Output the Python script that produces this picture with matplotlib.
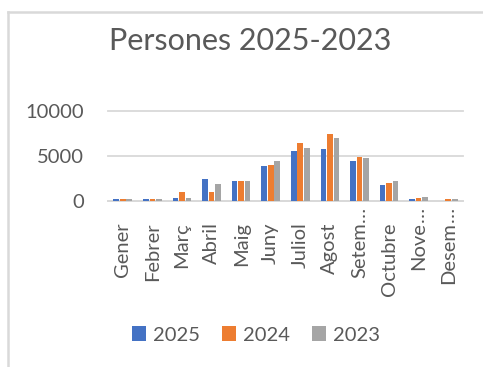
#!/usr/bin/env python3
"""
Persones per mes: comparativa 2025 / 2024 / 2023.
"""

import matplotlib.pyplot as plt
from matplotlib.lines import Line2D
from matplotlib.transforms import offset_copy
import numpy as np

plt.rcParams.update({
    'font.family': ['Lato', 'DejaVu Sans'],
    'font.size': 14,
    'text.color': '#595959',
    'xtick.color': '#595959',
    'ytick.color': '#595959',
})

# Data
mesos = ['Gener', 'Febrer', 'Març', 'Abril', 'Maig', 'Juny', 'Juliol',
         'Agost', 'Setem…', 'Octubre', 'Nove…', 'Desem…']
anys = ['2025', '2024', '2023']
p2025 = [250, 250, 400, 2480, 2230, 3900, 5580, 5730, 4490, 1820, 290, 0]
p2024 = [250, 250, 1100, 1100, 2230, 4050, 6460, 7450, 4930, 2080, 400, 290]
p2023 = [250, 250, 400, 1930, 2230, 4490, 5880, 7010, 4780, 2260, 550, 290]
yticks = [0, 5000, 10000]

colors = ['#4472C4', '#ED7D31', '#A5A5A5']
grid_color = '#d9d9d9'

W, H = 483, 367
fig = plt.figure(figsize=(W / 100, H / 100), dpi=100)
ax = fig.add_axes([108 / W, 1 - 201.5 / H, 355 / W, 90.8 / H])

x = np.arange(len(mesos))
width = 0.19
step = 0.22
for i, (vals, c, lab) in enumerate(zip([p2025, p2024, p2023], colors, anys)):
    ax.bar(x + (i - 1) * step, vals, width, color=c, label=lab, zorder=3)

ax.set_xlim(-0.5, len(mesos) - 0.5)
ax.set_ylim(0, 10000)
ax.set_yticks(yticks)
ax.set_yticklabels([str(v) for v in yticks])
ax.tick_params(axis='y', length=0, pad=17, labelsize=14.5)
ax.tick_params(axis='x', length=0)
ax.set_xticks(x)
ax.set_xticklabels([])
ax.grid(axis='y', color=grid_color, linewidth=1.3, zorder=0)
ax.grid(axis='x', visible=False)
for s in ['top', 'right', 'left']:
    ax.spines[s].set_visible(False)
ax.spines['bottom'].set_color(grid_color)
ax.spines['bottom'].set_linewidth(1.3)
for line in ax.get_ygridlines():
    line.set_clip_on(False)

# Month labels, rotated; truncated names keep the word aligned with the rest
base = ax.get_xaxis_transform()
for xi, name in zip(x, mesos):
    if name.endswith('…'):
        word = name[:-1]
        tr = offset_copy(base, fig=fig, x=0, y=-15, units='points')
        ax.text(xi, 0, word, rotation=90, ha='center', va='top',
                transform=tr, fontsize=14.5)
        ax.text(xi, 0, '…', rotation=90, ha='center', va='bottom',
                transform=tr, fontsize=14.5)
    else:
        tr = offset_copy(base, fig=fig, x=0, y=-15, units='points')
        ax.text(xi, 0, name, rotation=90, ha='center', va='top',
                transform=tr, fontsize=14.5)

fig.text(250 / W, 1 - 41 / H, 'Persones 2025-2023', ha='center', va='center',
         fontsize=22, color='#595959')

fig.legend(loc='center', bbox_to_anchor=(256 / W, 1 - 335 / H), ncol=3,
           frameon=False, fontsize=14.5, handlelength=0.7, handleheight=0.7,
           handletextpad=0.35, columnspacing=1.1)

# Chart frame (left and top edges)
fig.add_artist(Line2D([8 / W, 8 / W], [0, 1 - 12 / H], color=grid_color,
                      linewidth=1.8, transform=fig.transFigure))
fig.add_artist(Line2D([8 / W, 1], [1 - 12 / H, 1 - 12 / H], color=grid_color,
                      linewidth=1.8, transform=fig.transFigure))

fig.savefig('out.png', dpi=100, facecolor='white')
